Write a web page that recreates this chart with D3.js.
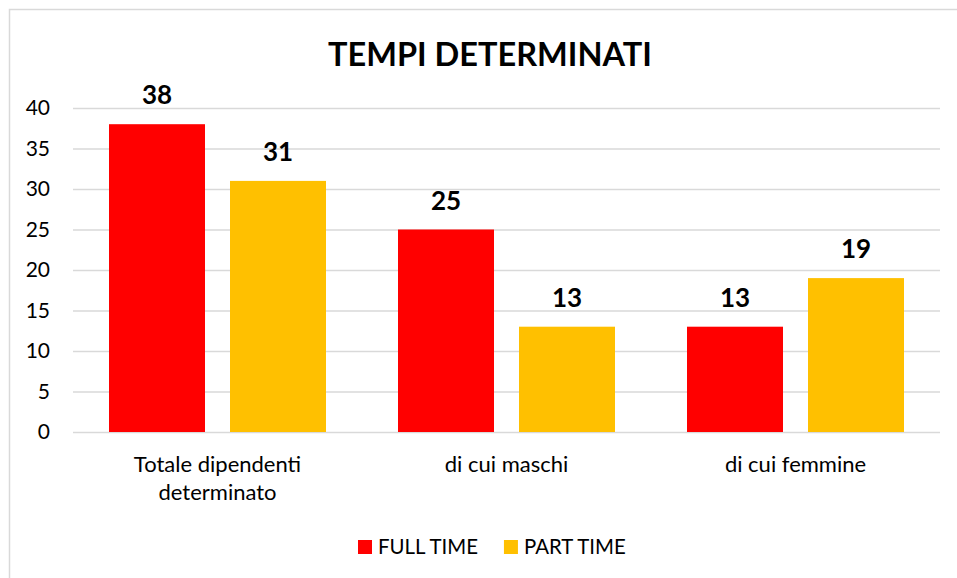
<!DOCTYPE html>
<html lang="it">
  <head>
    <meta charset="UTF-8" />
    <title>Tempi determinati</title>
    <script src="https://d3js.org/d3.v7.min.js"></script>
    <style>
      body { margin: 0; background: #fff; }
      svg { display: block; font-family: Lato, "Open Sans", sans-serif; }
      .grid line { stroke: #d9d9d9; stroke-width: 1.3; }
      .grid path { display: none; }
      .tick text { fill: #000; }
    </style>
  </head>
  <body>
    <svg id="chart" width="957" height="578"></svg>

    <script>
      // chart data
      const categories = ["Totale dipendenti determinato", "di cui maschi", "di cui femmine"];
      const seriesNames = ["FULL TIME", "PART TIME"];
      const fullTime = [38, 25, 13];
      const partTime = [31, 13, 19];
      const yTicks = [0, 5, 10, 15, 20, 25, 30, 35, 40];

      const colors = { "FULL TIME": "#ff0000", "PART TIME": "#ffc000" };

      const svg = d3.select("#chart");

      // outer frame (cropped on right and bottom in the original)
      svg.append("rect")
        .attr("x", 9.5).attr("y", 9.5)
        .attr("width", 1100).attr("height", 1100)
        .attr("fill", "none").attr("stroke", "#d9d9d9").attr("stroke-width", 1.5);

      const plotLeft = 73, plotRight = 940, plotTop = 108, plotBottom = 432;

      const x = d3.scaleBand().domain(categories).range([plotLeft, plotRight]);
      const xs = d3.scaleBand().domain(seriesNames).range([0, x.bandwidth()])
        .paddingInner(25 / 121).paddingOuter(36 / 121);
      const y = d3.scaleLinear().domain([0, 40]).range([plotBottom, plotTop]);

      // title
      svg.append("text")
        .attr("x", 490).attr("y", 66)
        .attr("text-anchor", "middle")
        .attr("font-size", 32.5).attr("font-weight", "bold")
        .text("TEMPI DETERMINATI");

      // gridlines + y labels
      const yAxis = svg.append("g")
        .attr("class", "grid")
        .attr("transform", `translate(${plotLeft},0)`)
        .call(d3.axisLeft(y).tickValues(yTicks).tickSize(-(plotRight - plotLeft)).tickPadding(23));
      yAxis.selectAll("text").attr("font-size", 21).attr("font-family", "Lato, sans-serif");

      const rows = categories.map((c, i) => ({ cat: c, values: [
        { s: "FULL TIME", v: fullTime[i] },
        { s: "PART TIME", v: partTime[i] }
      ] }));

      const groups = svg.selectAll(".grp").data(rows).enter().append("g")
        .attr("class", "grp")
        .attr("transform", d => `translate(${x(d.cat)},0)`);

      groups.selectAll("rect").data(d => d.values).enter().append("rect")
        .attr("x", d => xs(d.s))
        .attr("y", d => y(d.v))
        .attr("width", xs.bandwidth())
        .attr("height", d => y(0) - y(d.v))
        .attr("fill", d => colors[d.s]);

      // value labels
      groups.selectAll(".val").data(d => d.values).enter().append("text")
        .attr("class", "val")
        .attr("x", d => xs(d.s) + xs.bandwidth() / 2)
        .attr("y", d => y(d.v) - 20)
        .attr("text-anchor", "middle")
        .attr("font-size", 26).attr("font-weight", "bold")
        .text(d => d.v);

      // category labels, wrapped
      const catText = svg.selectAll(".cat").data(categories).enter().append("text")
        .attr("class", "cat")
        .attr("text-anchor", "middle")
        .attr("font-size", 22)
        .attr("y", 472);
      catText.each(function (d) {
        const t = d3.select(this);
        const cx = x(d) + x.bandwidth() / 2;
        const words = d.split(" ");
        let lines = [], line = [];
        const probe = t.append("tspan");
        words.forEach(w => {
          line.push(w);
          probe.text(line.join(" "));
          if (probe.node().getComputedTextLength() > 240 && line.length > 1) {
            line.pop();
            lines.push(line.join(" "));
            line = [w];
          }
        });
        lines.push(line.join(" "));
        probe.remove();
        lines.forEach((l, i) => {
          t.append("tspan").attr("x", cx).attr("dy", i ? 28 : 0).text(l);
        });
      });

      // legend
      const legend = svg.append("g").attr("transform", "translate(358,540)");
      let lx = 0;
      seriesNames.forEach(s => {
        const item = legend.append("g").attr("transform", `translate(${lx},0)`);
        item.append("rect").attr("width", 14).attr("height", 14).attr("fill", colors[s]);
        const txt = item.append("text").attr("x", 20).attr("y", 13.5)
          .attr("font-size", 20.4).text(s);
        lx += 20 + txt.node().getComputedTextLength() + 26;
      });
    </script>
  </body>
</html>
